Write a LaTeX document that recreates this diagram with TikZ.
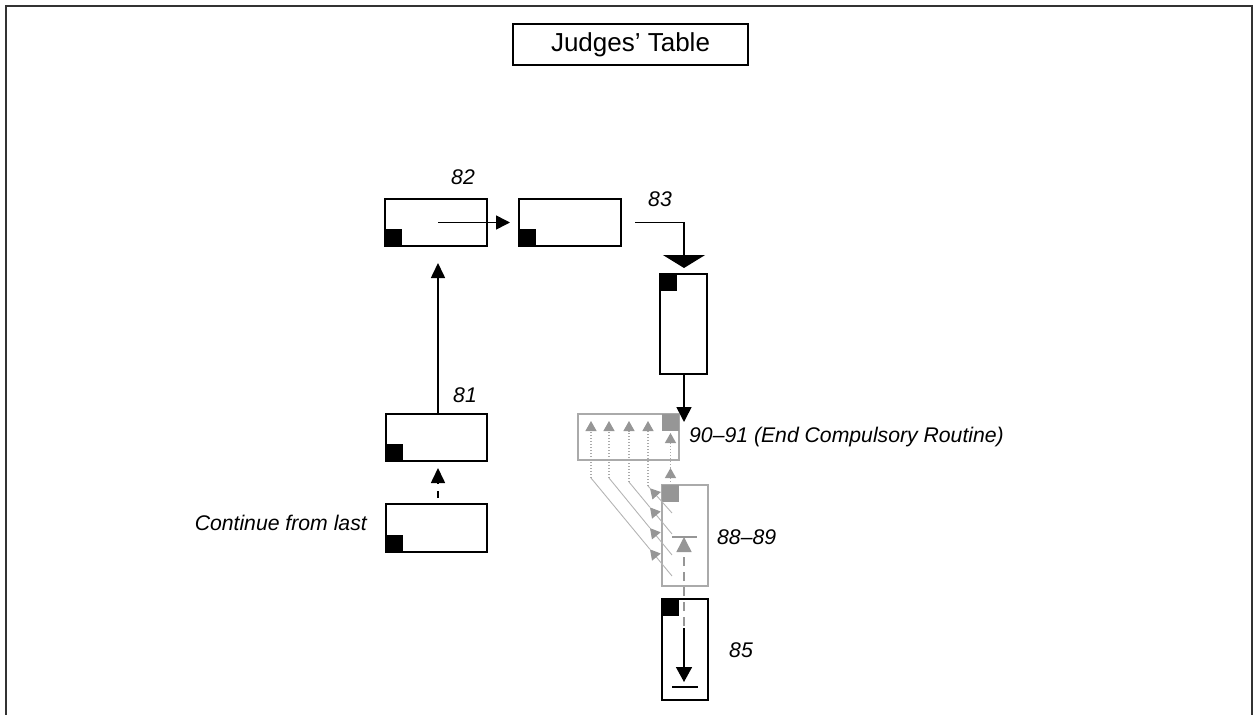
\documentclass[tikz,border=0pt]{standalone}
\usepackage{fontspec}
\setmainfont{Liberation Sans}
\usetikzlibrary{arrows.meta,calc}
\definecolor{gline}{RGB}{170,170,170}
\definecolor{gfill}{RGB}{150,150,150}
\definecolor{gdiag}{RGB}{180,180,180}
\begin{document}
\begin{tikzpicture}[x=1pt,y=-1pt,
  hbox/.style={draw=black,line width=1.6pt,minimum width=102pt,minimum height=47pt,inner sep=0pt,outer sep=0pt},
  vbox/.style={draw=black,line width=1.6pt,minimum width=47pt,minimum height=101pt,inner sep=0pt,outer sep=0pt},
  gvbox/.style={vbox,draw=gline},
  ghbox/.style={hbox,draw=gline},
  blk/.style={fill=black,minimum size=17pt,inner sep=0pt,outer sep=0pt},
  gsq/.style={fill=gfill,minimum size=17pt,inner sep=0pt,outer sep=0pt},
  lbl/.style={font=\fontsize{21.2}{25}\selectfont\itshape,inner sep=0pt},
  conn/.style={draw=black,line width=1.6pt},
  gconn/.style={draw=gfill,line width=1.5pt},
  gdot/.style={draw=gline,line width=1.2pt,dash pattern=on 1.2pt off 1.8pt},
  gdg/.style={draw=gdiag,line width=0.9pt},
  gtip/.style={-{Triangle[length=10pt,width=11pt,color=gfill]}}
]
\useasboundingbox (0,0) rectangle (1254,715);
% outer frame
\draw[line width=2pt,black!80] (6,718) -- (6,6) -- (1252,6) -- (1252,718);

% title
\node[draw=black,line width=1.6pt,minimum width=235pt,minimum height=41pt,inner sep=0pt,
      font=\fontsize{26}{30}\selectfont] (judges) at (630.5,44.5) {Judges' Table};

% boxes
\node[hbox] (b82a) at (436,222.5) {};
\node[hbox] (b82b) at (570,222.5) {};
\node[vbox,minimum height=100pt] (b83) at (683.5,324) {};
\node[ghbox,minimum width=101pt,minimum height=46pt] (b90) at (628.5,437) {};
\node[gvbox,minimum width=46pt] (b88) at (685,535.5) {};
\node[vbox,minimum width=46pt] (b85) at (685,649.5) {};
\node[hbox,minimum width=101pt] (b81) at (436.5,437.5) {};
\node[hbox,minimum width=101pt,minimum height=48pt] (bcont) at (436.5,528) {};

% corner squares
\node[blk,anchor=south west] (s82a) at (b82a.south west) {};
\node[blk,anchor=south west] (s82b) at (b82b.south west) {};
\node[blk,anchor=north west] (s83) at (b83.north west) {};
\node[gsq,anchor=north east] (g90) at (b90.north east) {};
\node[gsq,anchor=north west] (g88) at (b88.north west) {};
\node[blk,anchor=north west] (s85) at (b85.north west) {};
\node[blk,anchor=south west] (s81) at (b81.south west) {};
\node[blk,anchor=south west] (scont) at (bcont.south west) {};

% labels
\node[lbl] (l82) at (463,177) {82};
\node[lbl] (l83) at (660,199) {83};
\node[lbl] (l81) at (465,395) {81};
\node[lbl] (l85) at (741,650) {85};
\node[lbl,anchor=west] (l88) at (717,537) {88--89};
\node[lbl,anchor=west] (l90) at (689,437) {90--91 (End Compulsory Routine)};
\node[lbl,anchor=east] (lcont) at (367,523) {Continue from last};

% black connectors
\draw[conn,-{Triangle[length=14pt,width=14pt]}] ($(b82a.center)+(2,0)$) -- ($(b82b.west)+(-9,0)$);
\draw[conn,-{Triangle[length=13pt,width=42pt]}] ($(b82b.east)+(14,0)$) -| ($(b83.north)+(0.5,-6)$);
\coordinate (t90) at ($(b83.south)+(0.5,48)$);
\draw[conn,-{Triangle[length=15pt,width=15pt]}] ($(b83.south)+(0.5,0)$) -- (t90);
\draw[conn,-{Triangle[length=15pt,width=14pt]}] ($(b81.north)+(1.5,0)$) -- ($(b82a.south)+(2,17)$);
\draw[conn,dash pattern=on 7pt off 7pt,dash phase=8pt,-{Triangle[length=15pt,width=14pt]}]
  ($(bcont.north)+(1.5,0)$) -- ($(b81.south)+(1.5,7)$);

% 88-89 inner
\coordinate (tip88) at ($(b88.center)+(-1,1.5)$);
\draw[gconn] ($(tip88)+(-12,0)$) -- ($(tip88)+(13,0)$);
\draw[gconn,dash pattern=on 9pt off 6pt,-{Triangle[length=15pt,width=15pt]}]
  ($(b85.north)+(-1,27)$) -- (tip88);

% 85 inner
\draw[conn,-{Triangle[length=15pt,width=16pt]}] ($(b85.north)+(-1,29)$) -- ($(b85.north)+(-1,83)$);
\draw[conn] ($(b85.south)+(-13,-13)$) -- ($(b85.south)+(13,-13)$);

% gray dotted arrows 88-89 -> 90-91
\draw[gdot,gtip] (g88.north) -- ($(g88.north)+(0,-17)$);
\draw[gdot,gtip] ($(g88.north)+(0,-17)$) -- ($(g88.north)+(0,-52)$);

\foreach \sx/\sy/\cx/\cy/\n in {672/576/591/478/1, 672/555/609/478/2, 672/534/629/482/3, 672/513/648/486/4}{
  \coordinate (ds\n) at (\sx,\sy);
  \coordinate (dc\n) at (\cx,\cy);
  \coordinate (dm\n) at ($(ds\n)!{(\sx-650)/(\sx-\cx)}!(dc\n)$);
  \coordinate (dt\n) at (\cx,421);
  \draw[gdg,gtip] (ds\n) -- (dm\n);
  \draw[gdg] (dm\n) -- (dc\n);
  \draw[gdot,gtip] (dc\n) -- (dt\n);
}
\end{tikzpicture}
\end{document}
